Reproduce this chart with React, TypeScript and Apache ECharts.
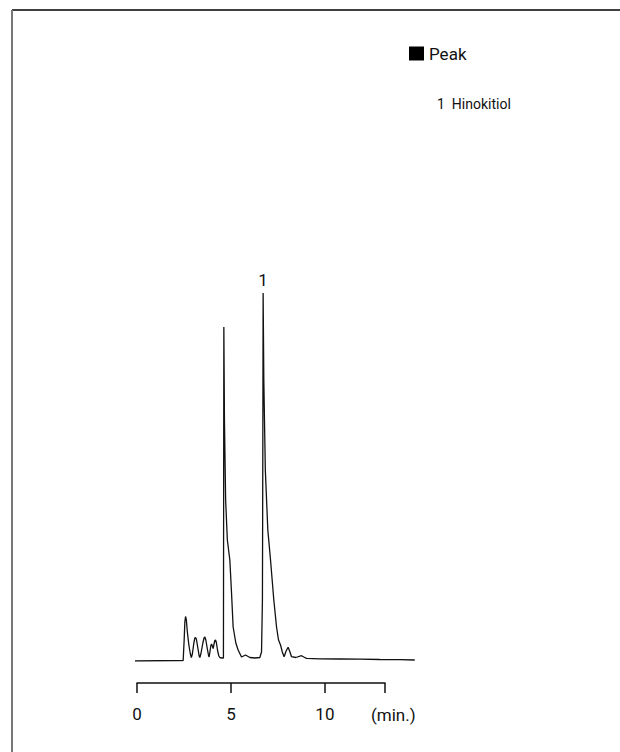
import React, { useEffect, useRef } from "react";
import * as echarts from "echarts";

// Retention time (min) and detector signal (arbitrary units above baseline)
const timeMin = [
  -0.1, 2.463, 2.516, 2.553, 2.59, 2.633, 2.686, 2.766, 2.846, 2.899,
  2.952, 3.032, 3.085, 3.122, 3.165, 3.245, 3.314, 3.351,
  3.404, 3.511, 3.574, 3.617, 3.67, 3.75, 3.819, 3.846,
  3.894, 3.936, 3.973, 4.016, 4.059, 4.106, 4.149, 4.186, 4.229, 4.298, 4.362, 4.415, 4.521,
  4.606, 4.617, 4.628, 4.66, 4.723, 4.814, 4.947, 5.037, 5.122, 5.266, 5.388, 5.569, 5.782,
  6.011, 6.277, 6.543, 6.633, 6.681, 6.702, 6.718, 6.755, 6.835, 6.968, 7.112, 7.287, 7.431,
  7.537, 7.644, 7.739, 7.835, 7.941, 8.048, 8.138, 8.229, 8.457, 8.761, 8.883, 9.027, 9.734,
  10.798, 11.862, 12.926, 13.989, 14.787,
];
const signal = [
  0, 0.5, 21, 39, 44.5, 41, 29, 16, 7, 3.5,
  7, 18, 23, 23.5, 22, 13, 5, 3.5,
  7, 18, 23, 24, 21, 12, 5, 4,
  10, 15.5, 17, 15, 12.5, 17, 20.5, 21, 18.5, 10, 5, 3.5, 3,
  3, 161, 334, 241, 161, 121, 101, 68, 34, 18, 11, 4, 6,
  3.5, 3, 3.5, 9, 61, 211, 368, 281, 191, 131, 101, 61, 34,
  21, 16, 9, 4.3, 10, 13.7, 9.5, 4.3, 3.5, 5.3, 4, 2.7, 2.2,
  2, 1.8, 1.5, 1.3, 1,
];

const peakNumbers = ["1"];
const peakTimes = [6.718];
const peakHeights = [368];
const peakNames = ["Hinokitiol"];

const axisTicks = [0, 5, 10];
const axisUnit = "(min.)";
const legendName = "Peak";

const FONT = "Roboto";

export default function App() {
  const ref = useRef<HTMLDivElement>(null);

  useEffect(() => {
    if (!ref.current) return;
    const chart = echarts.init(ref.current, undefined, { renderer: "svg" });
    const trace = timeMin.map((t, i) => [t, signal[i]]);

    chart.setOption({
      animation: false,
      backgroundColor: "#fff",
      legend: {
        data: [legendName],
        left: 409,
        top: 45,
        padding: 0,
        icon: "rect",
        itemWidth: 15,
        itemHeight: 14,
        itemGap: 5,
        textStyle: { fontFamily: FONT, fontSize: 17, color: "#111", padding: [0, 0, 0, 0] },
        selectedMode: false,
      },
      grid: [
        { left: 135, right: 205, top: 261, bottom: 91 },
        { left: 137, right: 235, top: 600, bottom: 69 },
      ],
      xAxis: [
        { type: "value", gridIndex: 0, min: -0.1, max: 14.8, show: false },
        {
          type: "value",
          gridIndex: 1,
          min: 0,
          max: 13.2,
          interval: 5,
          position: "bottom",
          axisLine: { show: true, lineStyle: { color: "#111", width: 1.5 } },
          axisTick: { show: true, inside: false, length: 10, lineStyle: { color: "#111", width: 1.5 } },
          axisLabel: {
            show: true,
            margin: 22,
            fontFamily: FONT,
            fontSize: 17,
            color: "#111",
            customValues: axisTicks,
            formatter: (v: number) => String(v),
          },
          splitLine: { show: false },
        },
      ],
      yAxis: [
        { type: "value", gridIndex: 0, min: 0, max: 400, show: false },
        { type: "value", gridIndex: 1, min: 0, max: 1, show: false },
      ],
      series: [
        {
          name: legendName,
          type: "line",
          xAxisIndex: 0,
          yAxisIndex: 0,
          data: trace,
          showSymbol: false,
          symbol: "none",
          color: "#000",
          lineStyle: { color: "#111", width: 1.3 },
          markPoint: {
            symbol: "circle",
            symbolSize: 0,
            silent: true,
            label: {
              show: true,
              position: "top",
              distance: 5,
              fontFamily: FONT,
              fontSize: 17,
              color: "#111",
              formatter: (p: any) => p.name,
            },
            data: peakNumbers.map((n, i) => ({ name: n, coord: [peakTimes[i], peakHeights[i]] })),
          },
        },
        {
          type: "line",
          xAxisIndex: 1,
          yAxisIndex: 1,
          data: [],
        },
      ],
      graphic: [
        {
          type: "line",
          shape: { x1: 12, y1: 10, x2: 620, y2: 10 },
          style: { stroke: "#000", lineWidth: 1.5 },
        },
        {
          type: "line",
          shape: { x1: 12, y1: 10, x2: 12, y2: 752 },
          style: { stroke: "#777", lineWidth: 2 },
        },
        {
          type: "text",
          left: 371,
          top: 706,
          style: { text: axisUnit, fontFamily: FONT, fontSize: 17, fill: "#111" },
        },
        ...peakNumbers.map((n, i) => ({
          type: "text",
          left: 437,
          top: 97 + i * 20,
          style: { text: `${n}  ${peakNames[i]}`, fontFamily: FONT, fontSize: 14, fill: "#111" },
        })),
      ],
    });

    return () => chart.dispose();
  }, []);

  return (
    <div
      ref={ref}
      style={{ position: "absolute", left: 0, top: 0, width: 620, height: 752 }}
    />
  );
}
